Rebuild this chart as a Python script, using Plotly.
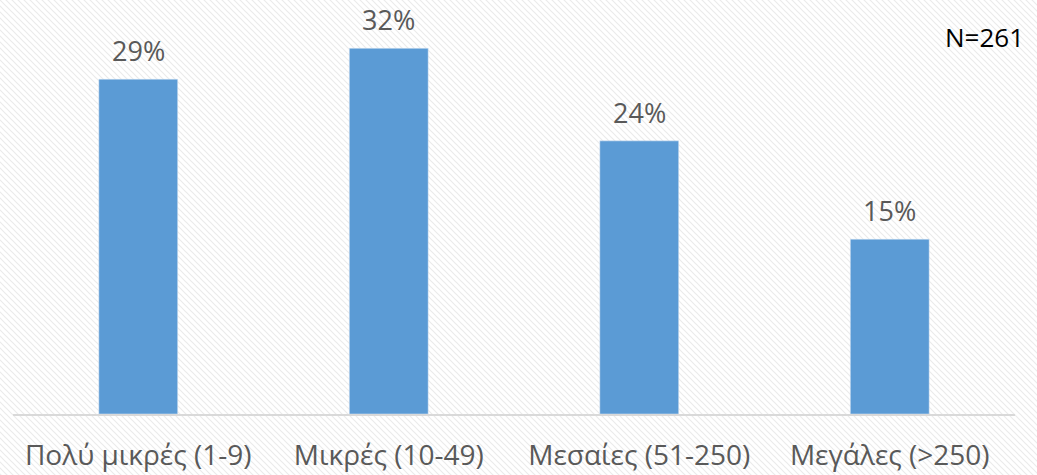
import base64
import plotly.graph_objects as go

categories = ['Πολύ μικρές (1-9)', 'Μικρές (10-49)', 'Μεσαίες (51-250)', 'Μεγάλες (>250)']
shares = [0.293, 0.320, 0.239, 0.153]
sample_note = 'N=261'

bar_color = '#5B9BD5'
text_color = '#595959'
font_family = 'Open Sans'

# faint diagonal hatch behind the chart
svg = (
    '<svg xmlns="http://www.w3.org/2000/svg" width="1037" height="475">'
    '<defs><pattern id="p" width="6" height="6" patternUnits="userSpaceOnUse">'
    '<path d="M-1,-1 L7,7 M-1,5 L1,7 M5,-1 L7,1" stroke="#EBEBEB" stroke-width="1.2"/>'
    '</pattern></defs><rect width="100%" height="100%" fill="url(#p)"/></svg>'
)
bg_uri = 'data:image/svg+xml;base64,' + base64.b64encode(svg.encode()).decode()

fig = go.Figure()
fig.add_trace(go.Bar(
    x=categories,
    y=shares,
    marker_color=bar_color,
    width=0.315,
    hoverinfo='skip',
))

for c, v in zip(categories, shares):
    fig.add_annotation(
        x=c, y=v, text=f'{v:.0%}',
        showarrow=False, yanchor='bottom', yshift=9,
        borderpad=0,
        font=dict(family=font_family, size=27, color=text_color),
    )

fig.add_annotation(
    xref='paper', yref='paper', x=1.011, y=0.9425,
    xanchor='right', yanchor='middle', showarrow=False,
    text=sample_note,
    font=dict(family=font_family, size=26, color='#000000'),
)

fig.update_layout(
    width=1037,
    height=475,
    margin=dict(l=13, r=22, t=14, b=61),
    paper_bgcolor='white',
    plot_bgcolor='rgba(0,0,0,0)',
    showlegend=False,
    font=dict(family=font_family, size=28, color=text_color),
    images=[dict(
        source=bg_uri, xref='paper', yref='paper',
        x=-13 / 1002, y=1 + 14 / 400,
        sizex=1037 / 1002, sizey=475 / 400,
        xanchor='left', yanchor='top',
        sizing='stretch', layer='below',
    )],
)

fig.update_xaxes(
    showline=True, linecolor='#D9D9D9', linewidth=2,
    showgrid=False, ticks='', ticklabelstandoff=15, automargin=False,
    tickfont=dict(size=28, color=text_color),
)
fig.update_yaxes(
    range=[0, 0.35], visible=False, showgrid=False, zeroline=False,
)

fig.write_html(
    'out.html',
    config={'displayModeBar': False},
    post_script="document.body.style.margin='0';",
)
